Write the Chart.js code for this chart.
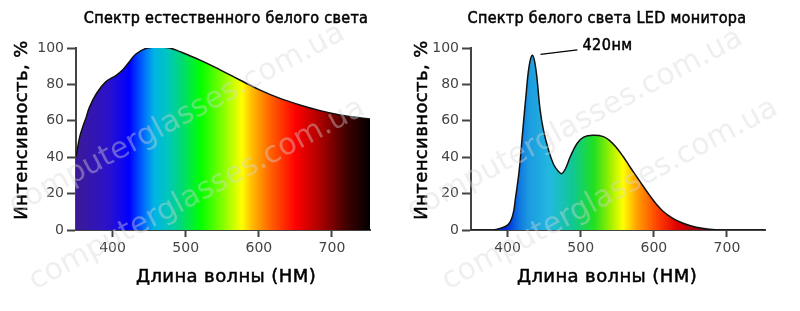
<!DOCTYPE html>
<html lang="ru">
<head>
  <meta charset="UTF-8">
  <title>Спектр белого света</title>
  <script src="https://cdn.jsdelivr.net/npm/chart.js"></script>
  <style>
    body { margin: 0; background: #fff; }
    .wrap { position: relative; width: 800px; height: 311px; }
    canvas { position: absolute; top: 0; }
    #natural { left: 0; }
    #led { left: 400px; }
  </style>
</head>
<body>
  <div class="wrap">
    <canvas id="natural" width="400" height="311"></canvas>
    <canvas id="led" width="400" height="311"></canvas>
  </div>

  <script>
    // tick labels
    const xTicks = [400, 500, 600, 700];
    const yTicks = [0, 20, 40, 60, 80, 100];

    // естественный белый свет
    const naturalNm = [350, 355, 360, 364, 368, 378, 391, 405, 414, 423, 432, 446, 460, 478, 492, 519, 547, 574, 601, 629, 656, 684, 711, 735, 752];
    const naturalValues = [40, 51, 57.5, 62, 67, 75, 81.5, 85, 88, 92.5, 96.7, 99.8, 100.5, 100, 98, 93.5, 88, 82.4, 77, 72.3, 68.7, 65.6, 63.2, 61.8, 61];

    // LED монитор
    const ledNm = [350, 380, 386, 400, 407, 411, 416, 420, 425, 429.5, 434, 438.5, 444.5, 449, 456, 463, 470, 474, 479, 486, 495, 504, 517, 531, 540, 549, 558, 567, 576, 585, 594.5, 603.5, 612.5, 626, 640, 658, 676, 695, 720, 752];
    const ledValues = [0, 0, 0.5, 2.7, 8, 18, 33, 51, 73, 90, 96, 89, 66, 55, 44, 36, 32, 31, 33.5, 40.5, 47.5, 51, 52, 51.3, 49, 45.2, 40.4, 34.9, 29.6, 24.3, 18.9, 14.2, 10.3, 6.4, 3.7, 1.5, 0.4, 0, 0, 0];

    const titles = ["Спектр естественного белого света", "Спектр белого света LED монитора"];
    const xTitle = "Длина волны (НМ)";
    const yTitle = "Интенсивность, %";
    const peakLabel = "420нм";
    const watermark = "computerglasses.com.ua";

    // цвета спектра (длина волны -> цвет)
    const naturalStops = [[350, "#3c1a96"], [395, "#2a12cc"], [423, "#0000ff"], [441, "#0064ff"], [457, "#00b4e6"], [478, "#00c8b4"], [496, "#00dc6e"], [520, "#00ff00"], [550, "#80ff00"], [577, "#ffff00"], [590, "#ffbe00"], [615, "#ff6400"], [650, "#ff0000"], [688, "#a00000"], [720, "#400000"], [752, "#000000"]];
    const ledStops = [[395, "#0028d0"], [403, "#0040e0"], [416, "#1078e0"], [430, "#1c9ce0"], [457, "#22b8e0"], [490, "#10c890"], [518, "#20e020"], [541, "#a0f000"], [558, "#ffff00"], [577, "#ffa000"], [605, "#ff4000"], [632, "#e00000"], [663, "#900010"], [700, "#600010"]];

    function spectrumFill(stops) {
      return function(context) {
        const chart = context.chart;
        const area = chart.chartArea;
        if (!area) return "#0000ff";
        const x = chart.scales.x;
        const g = chart.ctx.createLinearGradient(area.left, 0, area.right, 0);
        stops.forEach(s => {
          const pos = (x.getPixelForValue(s[0]) - area.left) / (area.right - area.left);
          g.addColorStop(Math.min(1, Math.max(0, pos)), s[1]);
        });
        return g;
      };
    }

    // полужирный текст: заливка + тонкий контур
    function medText(ctx, text, x, y) {
      ctx.fillText(text, x, y);
      ctx.strokeText(text, x, y);
    }

    // подписи, заголовки и водяной знак
    const textPlugin = {
      id: "texts",
      afterDraw(chart, args, opts) {
        const ctx = chart.ctx;
        const cx = opts.cx;
        ctx.save();
        ctx.fillStyle = "#000";
        ctx.strokeStyle = "#000";
        ctx.lineWidth = 0.5;
        ctx.textAlign = "center";
        ctx.textBaseline = "middle";
        ctx.letterSpacing = "0.3px";
        ctx.font = "16px 'DejaVu Sans Condensed'";
        medText(ctx, opts.title, cx, 19);
        ctx.letterSpacing = "0.4px";
        ctx.font = "18px 'DejaVu Sans'";
        medText(ctx, xTitle, cx, 277);
        ctx.save();
        ctx.translate(22, 130);
        ctx.rotate(-Math.PI / 2);
        medText(ctx, yTitle, 0, 0);
        ctx.restore();

        if (opts.peak) {
          const x = chart.scales.x, y = chart.scales.y;
          ctx.lineWidth = 1.2;
          ctx.beginPath();
          ctx.moveTo(x.getPixelForValue(opts.peak[0]), y.getPixelForValue(opts.peak[1]));
          ctx.lineTo(x.getPixelForValue(opts.peak[2]), y.getPixelForValue(opts.peak[3]));
          ctx.stroke();
          ctx.lineWidth = 0.5;
          ctx.textAlign = "left";
          ctx.letterSpacing = "0.5px";
          ctx.font = "16px 'DejaVu Sans Condensed'";
          medText(ctx, peakLabel, x.getPixelForValue(opts.peak[2]) + 5, y.getPixelForValue(opts.peak[3]) - 4);
        }

        ctx.letterSpacing = "0px";
        ctx.fillStyle = "rgba(215,215,215,0.4)";
        ctx.textAlign = "left";
        ctx.textBaseline = "alphabetic";
        ctx.font = "30px 'DejaVu Sans'";
        opts.marks.forEach(m => {
          ctx.save();
          ctx.translate(m[0], m[1]);
          ctx.rotate(-0.49);
          ctx.fillText(watermark, 0, 0);
          ctx.restore();
        });
        ctx.restore();
      }
    };

    function makeChart(id, nm, values, stops, yWidth, rightPad, texts) {
      const axisColor = "#444";
      const tickFont = { family: "DejaVu Sans", size: 14 };
      new Chart(document.getElementById(id), {
        type: "line",
        data: {
          datasets: [{
            data: nm.map((v, i) => ({ x: v, y: values[i] })),
            borderColor: "#111",
            borderWidth: 1.5,
            pointRadius: 0,
            fill: "origin",
            tension: 0.4,
            backgroundColor: spectrumFill(stops)
          }]
        },
        options: {
          responsive: false,
          animation: false,
          layout: { padding: { top: 48, right: rightPad, left: 0, bottom: 0 } },
          plugins: { legend: { display: false }, tooltip: { enabled: false }, texts: texts },
          scales: {
            x: {
              type: "linear", min: 350, max: 752,
              afterBuildTicks: s => { s.ticks = xTicks.map(v => ({ value: v })); },
              afterFit: s => { s.height = 81; },
              grid: { drawOnChartArea: false, tickLength: 7, tickWidth: 2, tickColor: axisColor },
              border: { color: axisColor, width: 2 },
              ticks: { color: "#444", font: tickFont, padding: 3, maxRotation: 0 }
            },
            y: {
              min: 0, max: 100,
              afterBuildTicks: s => { s.ticks = yTicks.map(v => ({ value: v })); },
              afterFit: s => { s.width = yWidth; },
              grid: { drawOnChartArea: false, tickLength: 9, tickWidth: 2, tickColor: axisColor },
              border: { color: axisColor, width: 2 },
              ticks: { color: "#444", font: tickFont, padding: 3 }
            }
          }
        },
        plugins: [textPlugin]
      });
    }

    makeChart("natural", naturalNm, naturalValues, naturalStops, 76, 30,
      { title: titles[0], cx: 226, marks: [[15, 215], [35, 290]] });
    makeChart("led", ledNm, ledValues, ledStops, 71, 35,
      { title: titles[1], cx: 207, marks: [[13, 220], [48, 290]], peak: [445, 96.5, 495.5, 99] });
  </script>
</body>
</html>
